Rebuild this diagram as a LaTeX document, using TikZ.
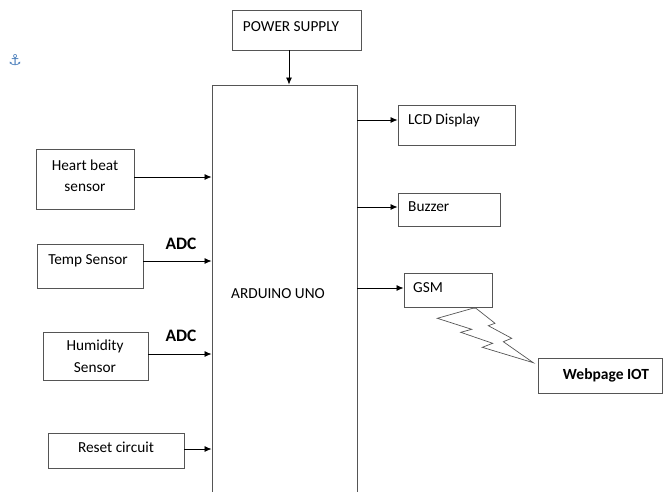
\documentclass[tikz,border=0pt]{standalone}
\usepackage{fontspec}
\setmainfont{Carlito}
\newfontfamily\symfont{DejaVu Sans}
\usetikzlibrary{arrows.meta}
\definecolor{boxline}{HTML}{555555}
\definecolor{anchorblue}{HTML}{4A7EBB}
\tikzset{
  blk/.style={draw=boxline, line width=0.9pt, rectangle, inner sep=0pt},
  lbl/.style={font=\fontsize{15.3}{21}\selectfont, inner sep=0pt, align=center},
  adclbl/.style={font=\fontsize{17.5}{20}\selectfont\bfseries, inner sep=0pt},
  arr/.style={line width=0.8pt, -{Latex[length=7pt,width=6pt]}},
  bolt/.style={draw=boxline, line width=0.7pt, line join=miter}
}
\begin{document}
\begin{tikzpicture}[x=1pt,y=-1pt]
\useasboundingbox (0,0) rectangle (663,491);
\clip (0,0) rectangle (663,491);
% boxes
\node[blk, minimum width=129pt, minimum height=40pt] (ps) at (296.5,30) {};
\node[blk, minimum width=145pt, minimum height=440pt] (ard) at (284.5,305) {};
\node[blk, minimum width=98pt, minimum height=60pt] (hb) at (85,179) {};
\node[blk, minimum width=106pt, minimum height=44pt] (temp) at (90,266) {};
\node[blk, minimum width=105pt, minimum height=48pt] (hum) at (95.5,356) {};
\node[blk, minimum width=136pt, minimum height=35pt] (rst) at (116,450.5) {};
\node[blk, minimum width=117pt, minimum height=40pt] (lcd) at (456.5,125) {};
\node[blk, minimum width=102pt, minimum height=33pt] (buz) at (449,209.5) {};
\node[blk, minimum width=88pt, minimum height=34pt] (gsm) at (448,290) {};
\node[blk, minimum width=124pt, minimum height=35pt] (web) at (600,375.5) {};
% texts
\node[lbl, anchor=mid] (pst) at (291,29) {POWER SUPPLY};
\node[lbl] (hbt) at (85,175.5) {Heart beat\\sensor};
\node[lbl, anchor=mid] (tempt) at (88,262) {Temp Sensor};
\node[lbl, text depth=0pt] (humt) at (95,356) {Humidity\\[1pt]Sensor};
\node[lbl, anchor=mid] (rstt) at (116,450) {Reset circuit};
\node[lbl, anchor=mid] (ardt) at (278,296) {ARDUINO UNO};
\node[lbl, anchor=mid west] (lcdt) at (408,122) {LCD Display};
\node[lbl, anchor=mid west] (buzt) at (408,209) {Buzzer};
\node[lbl, anchor=mid west] (gsmt) at (413,290) {GSM};
\node[lbl, anchor=mid, font=\fontsize{15.5}{18}\selectfont\bfseries] (webt) at (606,377) {Webpage IOT};
\node[adclbl, anchor=mid] (adc1) at (181,247) {ADC};
\node[adclbl, anchor=mid] (adc2) at (181,339) {ADC};
\node[inner sep=0pt, text=anchorblue, font=\symfont\fontsize{15}{16}\selectfont] (anc) at (15,60) {⚓};
% connectors
\draw[arr] (ps.south -| 289,0) -- (ard.north -| 289,0);
\draw[arr] (hb.east |- 0,177) -- (ard.west |- 0,177);
\draw[arr] (temp.east |- 0,261) -- (ard.west |- 0,261);
\draw[arr] (hum.east |- 0,354) -- (ard.west |- 0,354);
\draw[arr] (rst.east |- 0,449) -- (ard.west |- 0,449);
\draw[arr] (ard.east |- 0,120) -- (lcd.west |- 0,120);
\draw[arr] (ard.east |- 0,207) -- (buz.west |- 0,207);
\draw[arr] (ard.east |- 0,288) -- (gsm.west |- 0,288);
% lightning bolt
\draw[bolt] (472.7,308.3) -- (437.3,318.3) -- (471.7,329.3) -- (460.7,332.3)
  -- (492.7,343.3) -- (482.3,347.3) -- (533.3,362.7) -- (503.3,341.7)
  -- (511.7,338.3) -- (488.3,325.7) -- (495,323.3) -- (476,308.3) -- cycle;
\end{tikzpicture}
\end{document}
